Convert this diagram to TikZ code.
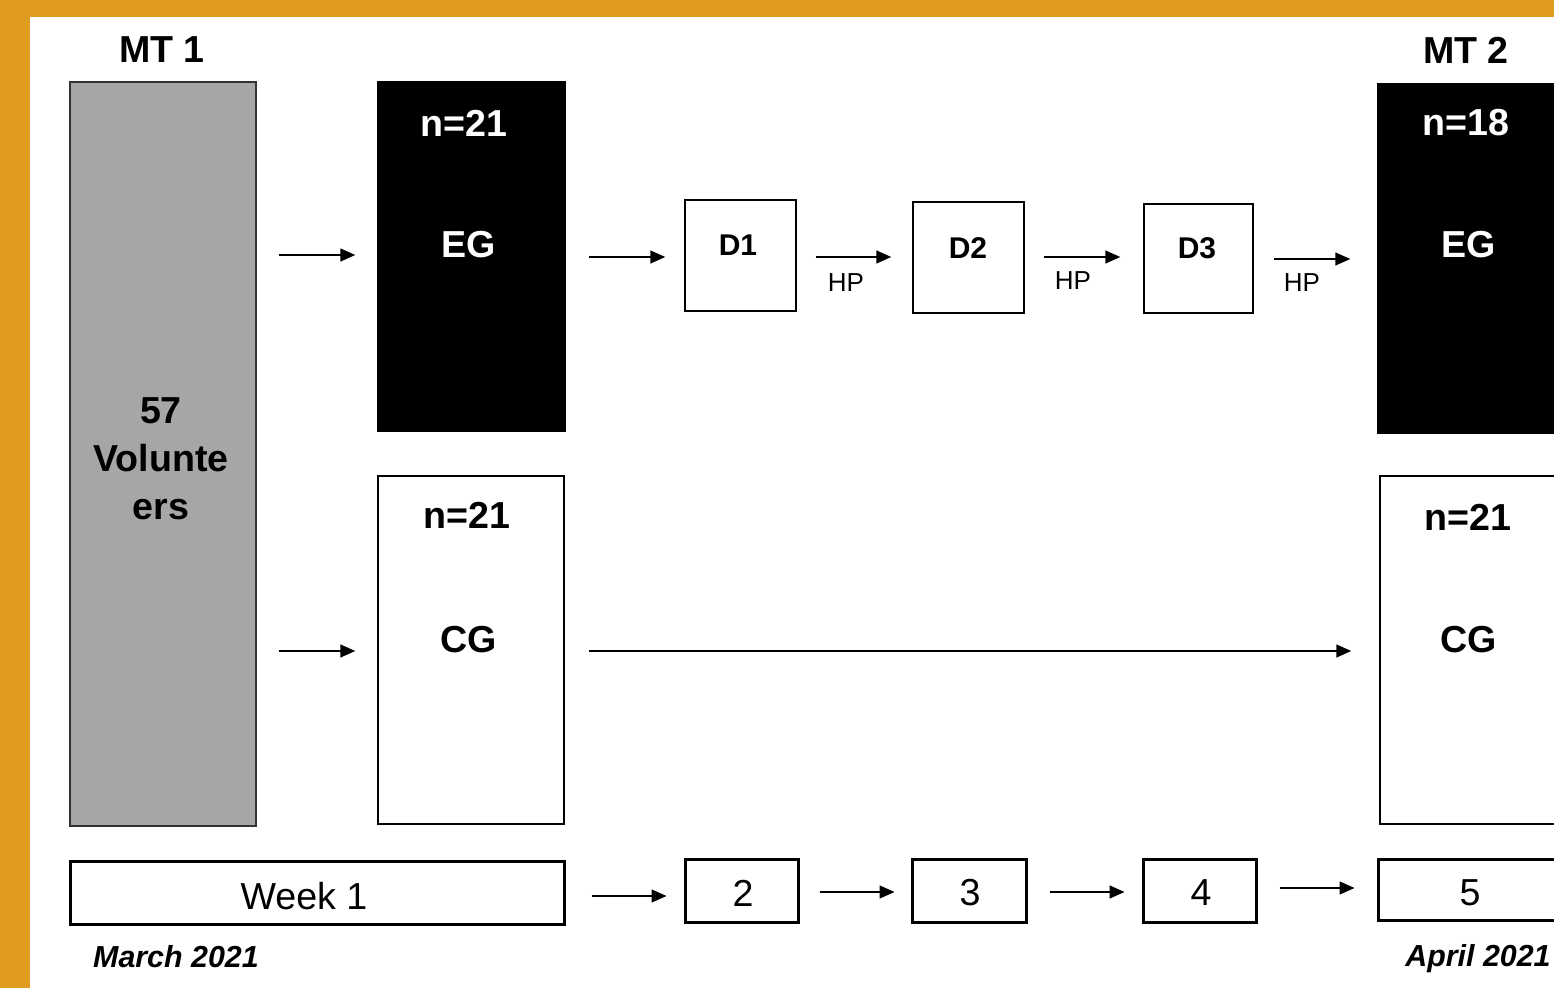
\documentclass[tikz,border=0pt]{standalone}
\usepackage{fontspec}
\setmainfont{Liberation Sans}
\usetikzlibrary{arrows.meta}
\definecolor{border}{HTML}{E09C1E}
\definecolor{volgrey}{HTML}{A6A6A6}
\newcommand\bx[6]{\node[#6, minimum width={(#4-#2)*0.5pt}, minimum height={(#5-#3)*0.5pt}] (#1) at ({(#2+#4)/2},{(#3+#5)/2}) {};}
\tikzset{
  box/.style={draw=black, line width=0.75pt, inner sep=0pt, fill=white},
  blackbox/.style={draw=black, fill=black, line width=0.75pt, inner sep=0pt},
  greybox/.style={draw=black!80, fill=volgrey, line width=0.9pt, inner sep=0pt},
  weekbox/.style={draw=black, line width=1.5pt, inner sep=0pt, fill=white},
  arr/.style={line width=0.75pt, -{Triangle[length=7.5pt,width=6.5pt]}},
  big/.style={font=\fontsize{18.8}{24}\selectfont\bfseries, inner sep=0pt},
  bigw/.style={big, text=white},
  dlab/.style={font=\fontsize{15}{18}\selectfont\bfseries, inner sep=0pt},
  hp/.style={font=\fontsize{13}{15}\selectfont, inner sep=0pt},
  wk/.style={font=\fontsize{18.8}{22}\selectfont, inner sep=0pt},
  date/.style={font=\fontsize{15.2}{18}\selectfont\bfseries\itshape, inner sep=0pt}
}
\begin{document}
\begin{tikzpicture}[x=0.5pt,y=-0.5pt]
\useasboundingbox (0,0) rectangle (1554,988);
\clip (0,0) rectangle (1554,988);
\fill[border] (0,0) rectangle (1554,988);
\fill[white] (30,17) rectangle (1600,1000);
% boxes
\bx{vol}{70}{82}{256}{826}{greybox}
\bx{eg}{378}{82}{565}{431}{blackbox}
\bx{cg}{378}{476}{564}{824}{box}
\bx{d1}{685}{200}{796}{311}{box}
\bx{d2}{913}{202}{1024}{313}{box}
\bx{d3}{1144}{204}{1253}{313}{box}
\bx{egb}{1378}{84}{1660}{433}{blackbox}
\bx{cgb}{1380}{476}{1660}{824}{box}
\bx{w1}{70}{862}{564}{924}{weekbox}
\bx{w2}{685}{860}{798}{922}{weekbox}
\bx{w3}{912}{860}{1026}{922}{weekbox}
\bx{w4}{1143}{860}{1256}{922}{weekbox}
\bx{w5}{1378}{860}{1660}{920}{weekbox}
% titles
\node[big] (mt1) at (162,50) {MT 1};
\node[big] (mt2) at (1466,50) {MT 2};
\node[big, align=center] (voltext) at (161,459) {57\\Volunte\\ers};
\node[bigw] (egn) at (464,123) {n=21};
\node[bigw] (egt) at (469,245) {EG};
\node[big] (cgn) at (467,515) {n=21};
\node[big] (cgt) at (469,640) {CG};
\node[bigw] (egbn) at (1466,123) {n=18};
\node[bigw] (egbt) at (1469,245) {EG};
\node[big] (cgbn) at (1468,517) {n=21};
\node[big] (cgbt) at (1469,640) {CG};
\node[dlab] (d1t) at (738,245) {D1};
\node[dlab] (d2t) at (968,248) {D2};
\node[dlab] (d3t) at (1197,248) {D3};
\node[hp] (hp1) at (846,283) {HP};
\node[hp] (hp2) at (1073,281) {HP};
\node[hp] (hp3) at (1302,283) {HP};
\node[wk] (w1t) at (304,896) {Week 1};
\node[wk] (w2t) at (743,893) {2};
\node[wk] (w3t) at (970,893) {3};
\node[wk] (w4t) at (1201,893) {4};
\node[wk] (w5t) at (1470,893) {5};
\node[date] (mar) at (176,957) {March 2021};
\node[date] (apr) at (1478,959) {April 2021};
% arrows
\draw[arr] ([xshift=11pt]vol.east |- 0,255) -- ([xshift=-11pt]eg.west |- 0,255);
\draw[arr] ([xshift=11pt]vol.east |- 0,651) -- ([xshift=-11pt]cg.west |- 0,651);
\draw[arr] ([xshift=11.5pt]eg.east |- 0,257) -- ([xshift=-9.5pt]d1.west |- 0,257);
\draw[arr] ([xshift=9.5pt]d1.east |- 0,257) -- ([xshift=-10.5pt]d2.west |- 0,257);
\draw[arr] ([xshift=9.5pt]d2.east |- 0,257) -- ([xshift=-11.5pt]d3.west |- 0,257);
\draw[arr] ([xshift=10pt]d3.east |- 0,259) -- ([xshift=-13.5pt]egb.west |- 0,259);
\draw[arr] ([xshift=12pt]cg.east |- 0,651) -- ([xshift=-14pt]cgb.west |- 0,651);
\draw[arr] ([xshift=13pt]w1.east |- 0,896) -- ([xshift=-8.5pt]w2.west |- 0,896);
\draw[arr] ([xshift=10pt]w2.east |- 0,892) -- ([xshift=-8pt]w3.west |- 0,892);
\draw[arr] ([xshift=11pt]w3.east |- 0,892) -- ([xshift=-8.5pt]w4.west |- 0,892);
\draw[arr] ([xshift=11pt]w4.east |- 0,888) -- ([xshift=-11pt]w5.west |- 0,888);
\end{tikzpicture}
\end{document}
